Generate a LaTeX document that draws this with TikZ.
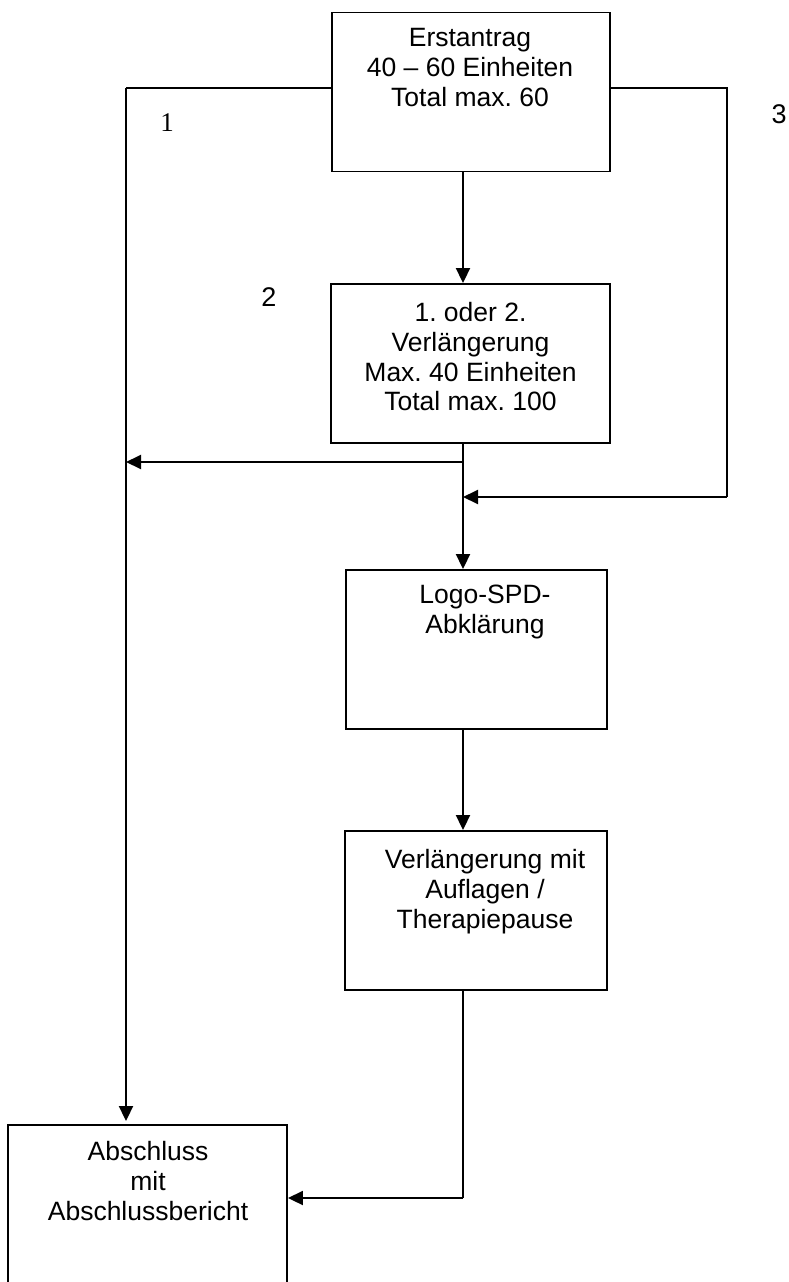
\documentclass[tikz,border=0pt]{standalone}
\usepackage{fontspec}
\setmainfont{Liberation Sans}
\newfontfamily\timesnum{Liberation Serif}
\usetikzlibrary{arrows.meta}
\frenchspacing

\tikzset{
  flowbox/.style={draw, line width=1.9pt, minimum height=159pt, inner sep=0pt},
  boxtext/.style={anchor=north, align=center, inner sep=0pt, font=\fontsize{26.5}{29.8}\selectfont},
  flowline/.style={line width=1.9pt},
  flowarrow/.style={line width=1.9pt, -{Triangle[length=15pt,width=14pt]}},
  numlabel/.style={inner sep=0pt, font=\fontsize{27}{30}\selectfont}
}

\begin{document}
\begin{tikzpicture}[x=1pt,y=1pt,yscale=-1]
\useasboundingbox (0,0) rectangle (788,1282);

% boxes
\node[flowbox, minimum width=278pt] (erst) at (471,92) {};
\node[flowbox, minimum width=279pt] (verl) at (470.5,363.5) {};
\node[flowbox, minimum width=261pt] (logo) at (476.5,649.5) {};
\node[flowbox, minimum width=262pt] (aufl) at (476,910.5) {};
\node[flowbox, minimum width=279pt, minimum height=160pt] (absch) at (147.5,1205) {};

% Text Node
\node[boxtext] (erstText) at (470,28) {Erstantrag\\40 – 60 Einheiten\\Total max. 60};
% Text Node
\node[boxtext] (verlText) at (470.5,302) {1. oder 2.\\Verlängerung\\Max. 40 Einheiten\\Total max. 100};
% Text Node
\node[boxtext] (logoText) at (485,585) {Logo-SPD-\\Abklärung};
% Text Node
\node[boxtext] (auflText) at (485,849) {Verlängerung mit\\Auflagen /\\Therapiepause};
% Text Node
\node[boxtext] (abschText) at (148,1141) {Abschluss\\mit\\Abschlussbericht};

% path numbers
\node[numlabel, font=\fontsize{27}{30}\timesnum] (numA) at (167,123) {1};
\node[numlabel] (numB) at (269,297) {2};
\node[numlabel] (numC) at (779,114) {3};

% corner points
\coordinate (leftTop) at (126,88);
\coordinate (rightTop) at (727,88);
\coordinate (rightBot) at (727,497);
\coordinate (spineR) at (463,497);
\coordinate (spineL) at (463,462);
\coordinate (leftMid) at (126,462);
\coordinate (retCorner) at (463,1198);

% path 1
\draw[flowline] (erst.west |- leftTop) -- (leftTop);
\draw[flowarrow, shorten >=3pt] (leftTop) -- (leftTop |- absch.north);
% path 3
\draw[flowline] (erst.east |- rightTop) -- (rightTop) -- (rightBot);
\draw[flowarrow] (rightBot) -- (spineR);
% path 2
\draw[flowarrow] (erst.south -| spineL) -- (verl.north -| spineL);
\draw[flowarrow] (verl.south -| spineL) -- (logo.north -| spineL);
\draw[flowarrow] (spineL) -- (leftMid);
\draw[flowarrow] (logo.south -| spineL) -- (aufl.north -| spineL);
\draw[flowline] (aufl.south -| spineL) -- (retCorner);
\draw[flowarrow] (retCorner) -- (absch.east |- retCorner);

\end{tikzpicture}
\end{document}
